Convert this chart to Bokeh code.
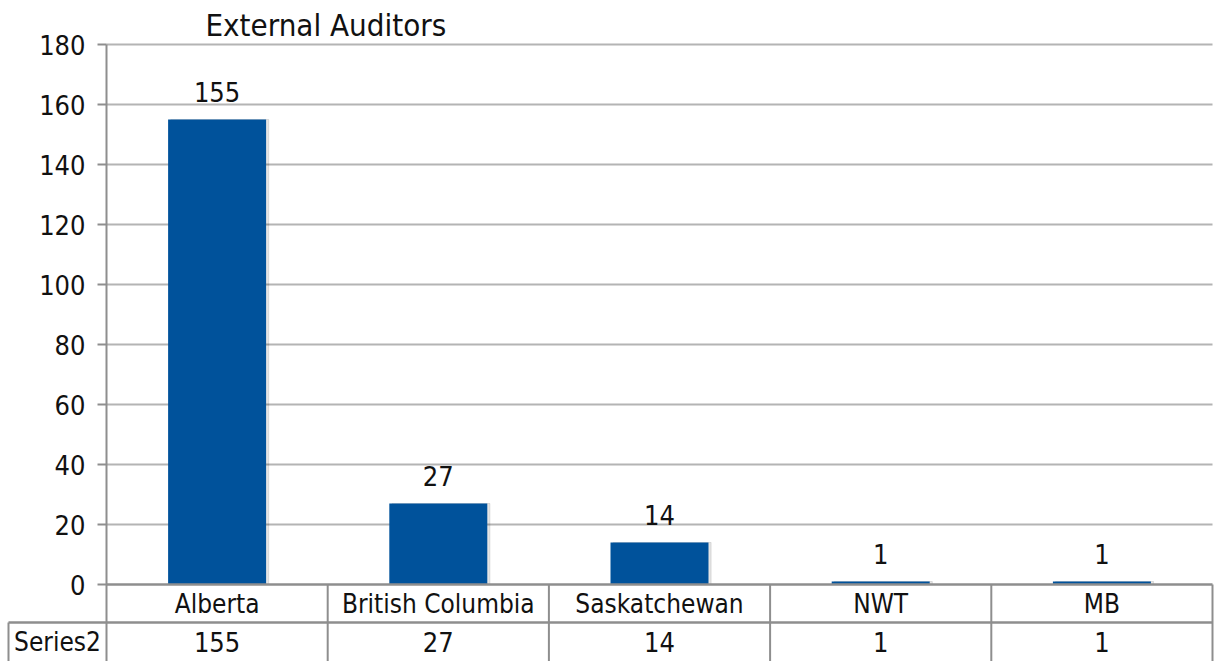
from bokeh.plotting import figure
from bokeh.models import Range1d, FixedTicker, ColumnDataSource, Label
from bokeh.embed import file_html
from bokeh.resources import INLINE
from bokeh.core.properties import value

# ---- data ----
categories = ["Alberta", "British Columbia", "Saskatchewan", "NWT", "MB"]
auditors = [155, 27, 14, 1, 1]
series_name = "Series2"
y_ticks = [0, 20, 40, 60, 80, 100, 120, 140, 160, 180]
title_text = "External Auditors"

FONT = "DejaVu Sans Condensed, DejaVu Sans, sans-serif"
BAR = "#00529B"
GRID = "#b4b4b4"
AXIS = "#8e8e8e"
TXT = "#111111"

# ---- layout geometry (pixels) ----
W, H = 1214, 661
X_AXIS_PX = 106          # y-axis / first category boundary
X_RIGHT_PX = 1212        # right end of plot area
Y0_PX = 584              # value 0
PX_PER_UNIT_Y = 3.0
ROW_SPLIT_PX = 622       # data-table row boundary
CELL_LEFT_PX = 8         # left edge of the "Series2" cell
TITLE_X_PX, TITLE_TOP_PX = 205, 6

n = len(categories)
unit = (X_RIGHT_PX - X_AXIS_PX) / n          # px per category
x_start = -X_AXIS_PX / unit
x_end = n + (W - X_RIGHT_PX) / unit
y_end = Y0_PX / PX_PER_UNIT_Y
y_start = -(H - Y0_PX) / PX_PER_UNIT_Y
y_split = -(ROW_SPLIT_PX - Y0_PX) / PX_PER_UNIT_Y
x_cell = -(X_AXIS_PX - CELL_LEFT_PX) / unit
y_max = max(y_ticks)

xs = [i + 0.5 for i in range(n)]
src = ColumnDataSource(dict(x=xs, val=auditors, lab=[str(v) for v in auditors]))

p = figure(x_range=Range1d(x_start, x_end), y_range=Range1d(y_start, y_end),
           width=W, height=H, output_backend="svg", toolbar_location=None,
           min_border_left=0, min_border_right=0, min_border_top=0, min_border_bottom=0)
p.outline_line_color = None
p.grid.visible = False
p.xaxis.visible = False

p.add_layout(Label(x=(TITLE_X_PX - X_AXIS_PX) / unit, y=(Y0_PX - TITLE_TOP_PX) / PX_PER_UNIT_Y,
                   text=title_text, text_font=FONT, text_font_size="31px",
                   text_color=TXT, text_baseline="top", text_align="left"))

# gridlines (plot area only)
gy = [t for t in y_ticks if t > 0]
p.segment(x0=[0] * len(gy), x1=[n] * len(gy), y0=gy, y1=gy, line_color=GRID, line_width=2)

# bars with a faint shadow
p.vbar(x=[v + 0.012 for v in xs], top=auditors, width=0.443, color="#000000", alpha=0.10)
p.vbar(x="x", top="val", width=0.443, source=src, color=BAR, line_color=None)
p.text(x="x", y="val", text="lab", source=src, y_offset=-18,
       text_align="center", text_baseline="bottom",
       text_font=value(FONT), text_font_size="27px", text_color=TXT)

# y axis drawn inside the frame at the first category boundary
ya = p.yaxis[0]
ya.fixed_location = 0
ya.bounds = (y_start - 5, y_max)
ya.ticker = FixedTicker(ticks=y_ticks)
ya.axis_line_color = AXIS
ya.axis_line_width = 2
ya.major_tick_line_color = AXIS
ya.major_tick_line_width = 2
ya.major_tick_out = 9
ya.major_tick_in = 0
ya.minor_tick_line_color = None
ya.major_label_standoff = 12
ya.major_label_text_font = FONT
ya.major_label_text_font_size = "27px"
ya.major_label_text_color = TXT

# data table
p.segment(x0=[0, x_cell], y0=[0, y_split], x1=[n, n], y1=[0, y_split],
          line_color=AXIS, line_width=2.5)
vx = list(range(1, n + 1))
p.segment(x0=vx, y0=[0] * n, x1=vx, y1=[y_start] * n, line_color=AXIS, line_width=2)
p.segment(x0=[x_cell], y0=[y_split], x1=[x_cell], y1=[y_start], line_color=AXIS, line_width=2)

p.text(x=xs, y=[y_split / 2] * n, text=categories, text_align="center", text_baseline="middle",
       text_font=value(FONT), text_font_size="26px", text_color=TXT)
p.text(x=xs, y=[(y_split + y_start) / 2] * n, text=[str(v) for v in auditors],
       text_align="center", text_baseline="middle",
       text_font=value(FONT), text_font_size="27px", text_color=TXT)
p.text(x=[x_cell / 2], y=[(y_split + y_start) / 2], text=[series_name],
       text_align="center", text_baseline="middle",
       text_font=value(FONT), text_font_size="26px", text_color=TXT)

open("out.html", "w").write(file_html(p, INLINE))
